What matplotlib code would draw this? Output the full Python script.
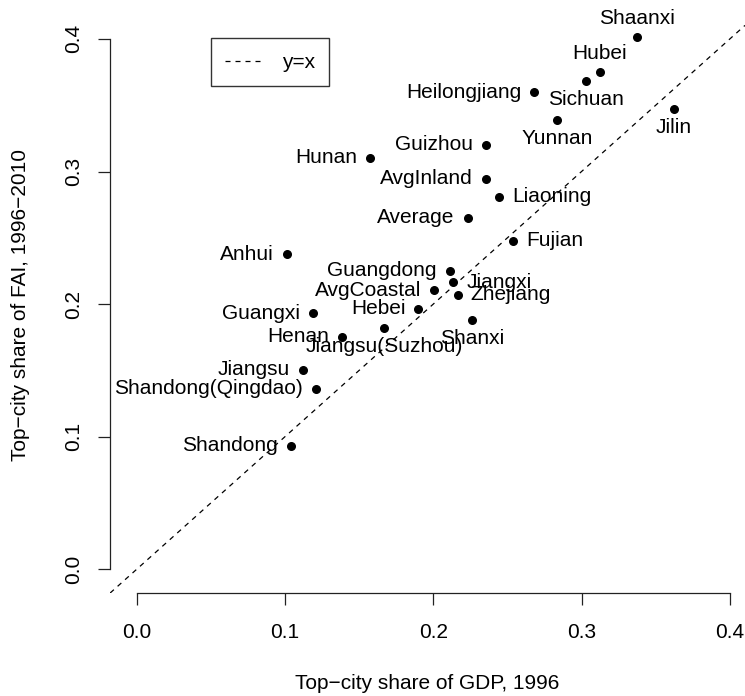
import matplotlib
matplotlib.use("Agg")
import matplotlib.pyplot as plt

plt.rcParams['font.family'] = ['Liberation Sans', 'DejaVu Sans']

# top-city share of GDP in 1996 vs share of fixed asset investment 1996-2010
provinces = ["Shaanxi", "Hubei", "Sichuan", "Heilongjiang", "Yunnan", "Jilin",
             "Guizhou", "Hunan", "AvgInland", "Liaoning", "Average", "Fujian",
             "Anhui", "Guangdong", "Jiangxi", "AvgCoastal", "Zhejiang", "Hebei",
             "Guangxi", "Shanxi", "Jiangsu(Suzhou)", "Henan", "Jiangsu",
             "Shandong(Qingdao)", "Shandong"]
gdp_share = [0.3372, 0.3124, 0.3028, 0.2681, 0.2836, 0.3623,
             0.2353, 0.1573, 0.2353, 0.2443, 0.2232, 0.2539,
             0.1011, 0.2113, 0.2135, 0.2005, 0.2165, 0.1899,
             0.1191, 0.2259, 0.1668, 0.1386, 0.1123,
             0.1209, 0.1040]
fai_share = [0.4017, 0.3750, 0.3683, 0.3597, 0.3388, 0.3474,
             0.3200, 0.3104, 0.2944, 0.2810, 0.2652, 0.2476,
             0.2376, 0.2250, 0.2164, 0.2106, 0.2070, 0.1963,
             0.1931, 0.1880, 0.1822, 0.1754, 0.1503,
             0.1360, 0.0932]
# where each label sits relative to its point (R-style pos codes)
label_pos = ["above", "above", "below", "left", "below", "below",
             "left", "left", "left", "right", "left", "right",
             "left", "left", "right", "left", "right", "left",
             "left", "below", "below", "left", "left",
             "left", "left"]
ticks = [0.0, 0.1, 0.2, 0.3, 0.4]

W, H = 745, 696
fig = plt.figure(figsize=(W / 100, H / 100), dpi=100)
left, right, top, bottom = 110, 745, 17.7, 593
ax = fig.add_axes([left / W, 1 - bottom / H, (right - left) / W, (bottom - top) / H])
ax.set_xlim(-0.0180, 0.4102)
ax.set_ylim(-0.0179, 0.4160)

ax.axline((0, 0), slope=1, color="black", lw=0.9, linestyle=(0, (4, 4)),
          label="y=x")
ax.scatter(gdp_share, fai_share, s=30, color="black", zorder=3)

fs = 15
offsets = {"left": (-9.4, 0, "right", "center"),
           "right": (9.4, 0, "left", "center"),
           "above": (0, 13.3, "center", "center"),
           "below": (0, -13.3, "center", "center")}
for name, x, y, pos in zip(provinces, gdp_share, fai_share, label_pos):
    dx, dy, ha, va = offsets[pos]
    ax.annotate(name, (x, y), xytext=(dx, dy), textcoords="offset points",
                ha=ha, va=va, fontsize=fs)

for side in ["top", "right"]:
    ax.spines[side].set_visible(False)
ax.spines["left"].set_bounds(0, 0.4)
ax.spines["bottom"].set_bounds(0, 0.4)
for side in ["left", "bottom"]:
    ax.spines[side].set_linewidth(0.9)
    ax.spines[side].set_color("#222222")

ax.set_xticks(ticks)
ax.set_yticks(ticks)
ax.set_xticklabels([f"{t:.1f}" for t in ticks])
ax.set_yticklabels([f"{t:.1f}" for t in ticks], rotation=90, va="center")
ax.tick_params(direction="out", length=8.6, width=0.9, labelsize=fs,
               color="#222222")
ax.tick_params(axis="x", pad=13)
ax.tick_params(axis="y", pad=11)

ax.set_xlabel("Top\u2212city share of GDP, 1996", fontsize=fs, labelpad=23)
ax.set_ylabel("Top\u2212city share of FAI, 1996\u22122010", fontsize=fs, labelpad=24)

ax.legend(loc="upper left", bbox_to_anchor=(210.7 / W, 1 - 38.3 / H),
          bbox_transform=fig.transFigure, frameon=True, fancybox=False,
          edgecolor="black", fontsize=fs, handlelength=1.8,
          borderpad=0.7, handletextpad=0.9, borderaxespad=0)

fig.savefig("out.png", dpi=100)
